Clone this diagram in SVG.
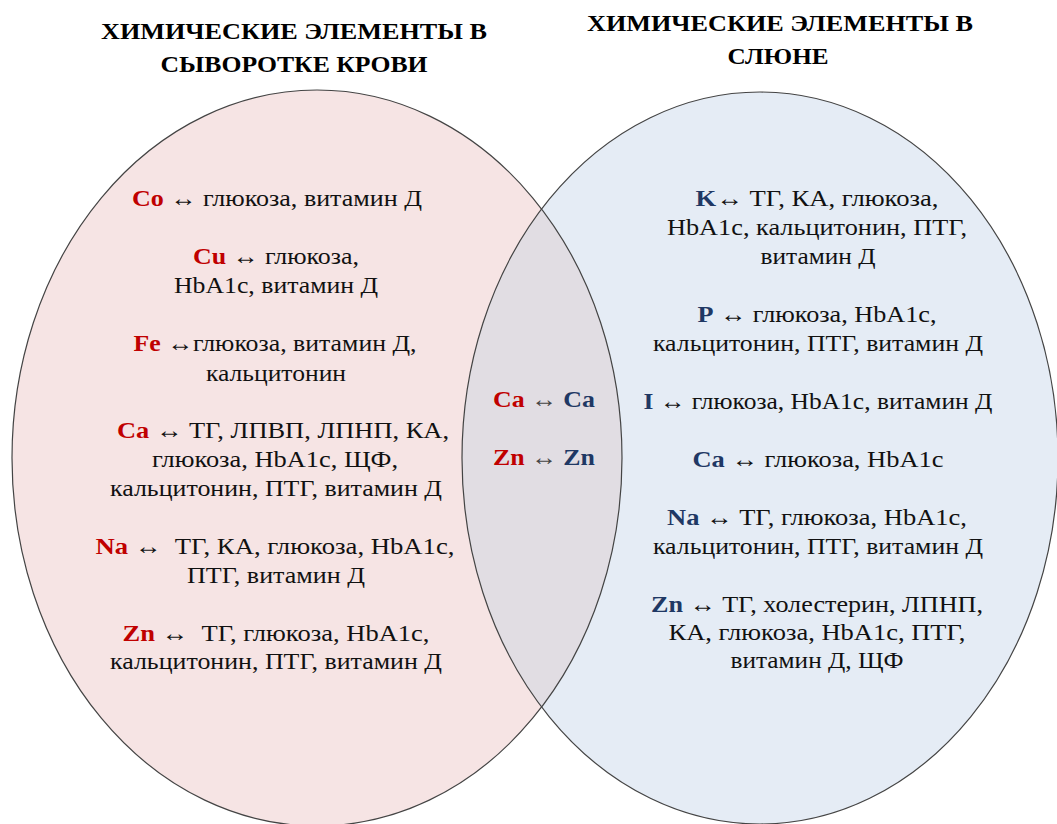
<svg xmlns="http://www.w3.org/2000/svg" width="1057" height="824" viewBox="0 0 1057 824">
<style>
.title{font-family:"Liberation Serif","Tinos","DejaVu Serif","Times New Roman",serif;font-weight:bold;font-size:24px;fill:#000;text-anchor:middle}
.t{font-family:"Liberation Serif","Tinos","DejaVu Serif","Times New Roman",serif;font-size:23.5px;fill:#111;text-anchor:middle;white-space:pre}
.r{fill:#C00000;font-weight:bold}
.b{fill:#1F3864;font-weight:bold}
.ar{fill:#444}
.edge{fill:none;stroke:#444;stroke-width:1.2}
</style>
<defs>
<clipPath id="clipL"><ellipse cx="317" cy="458" rx="305" ry="368"/></clipPath>
</defs>
<rect width="1057" height="824" fill="#fff"/>
<g id="titles">
<text class="title" x="294" y="39" textLength="386" lengthAdjust="spacingAndGlyphs">ХИМИЧЕСКИЕ ЭЛЕМЕНТЫ В</text>
<text class="title" x="294" y="72" textLength="267" lengthAdjust="spacingAndGlyphs">СЫВОРОТКЕ КРОВИ</text>
<text class="title" x="780" y="31" textLength="386" lengthAdjust="spacingAndGlyphs">ХИМИЧЕСКИЕ ЭЛЕМЕНТЫ В</text>
<text class="title" x="778" y="64" textLength="101" lengthAdjust="spacingAndGlyphs">СЛЮНЕ</text>
</g>
<g id="serum">
<ellipse cx="317" cy="458" rx="305" ry="368" fill="#F6E4E4"/>
</g>
<g id="saliva">
<ellipse cx="760" cy="458" rx="298" ry="366" fill="#E5ECF5"/>
</g>
<g id="overlap">
<ellipse cx="760" cy="458" rx="298" ry="366" fill="#E1DDE3" clip-path="url(#clipL)"/>
</g>
<g id="outlines">
<ellipse class="edge" cx="317" cy="458" rx="305" ry="368"/>
<ellipse class="edge" cx="760" cy="458" rx="298" ry="366"/>
</g>
<g id="serum-text">
<text class="t" x="277" y="206" textLength="290" lengthAdjust="spacingAndGlyphs"><tspan class="r">Co</tspan> ↔ глюкоза, витамин Д</text>
<text class="t" x="276" y="264" textLength="166" lengthAdjust="spacingAndGlyphs"><tspan class="r">Cu</tspan> ↔ глюкоза,</text>
<text class="t" x="276" y="293" textLength="204" lengthAdjust="spacingAndGlyphs">HbA1c, витамин Д</text>
<text class="t" x="275" y="351" textLength="283" lengthAdjust="spacingAndGlyphs"><tspan class="r">Fe</tspan> ↔глюкоза, витамин Д,</text>
<text class="t" x="276" y="381" textLength="140" lengthAdjust="spacingAndGlyphs">кальцитонин</text>
<text class="t" x="283" y="438" textLength="332" lengthAdjust="spacingAndGlyphs"><tspan class="r">Ca</tspan> ↔ ТГ, ЛПВП, ЛПНП, КА,</text>
<text class="t" x="275" y="467" textLength="246" lengthAdjust="spacingAndGlyphs">глюкоза, HbA1c, ЩФ,</text>
<text class="t" x="276" y="496" textLength="332" lengthAdjust="spacingAndGlyphs">кальцитонин, ПТГ, витамин Д</text>
<text class="t" x="275" y="554" textLength="359" lengthAdjust="spacingAndGlyphs"><tspan class="r">Na</tspan> ↔  ТГ, КА, глюкоза, HbA1c,</text>
<text class="t" x="276" y="583" textLength="178" lengthAdjust="spacingAndGlyphs">ПТГ, витамин Д</text>
<text class="t" x="276" y="641" textLength="307" lengthAdjust="spacingAndGlyphs"><tspan class="r">Zn</tspan> ↔  ТГ, глюкоза, HbA1c,</text>
<text class="t" x="276" y="669" textLength="332" lengthAdjust="spacingAndGlyphs">кальцитонин, ПТГ, витамин Д</text>
</g>
<g id="common-text">
<text class="t" x="544" y="407" textLength="102" lengthAdjust="spacingAndGlyphs"><tspan class="r">Ca</tspan> <tspan class="ar">↔</tspan> <tspan class="b">Ca</tspan></text>
<text class="t" x="544" y="465" textLength="102" lengthAdjust="spacingAndGlyphs"><tspan class="r">Zn</tspan> <tspan class="ar">↔</tspan> <tspan class="b">Zn</tspan></text>
</g>
<g id="saliva-text">
<text class="t" x="817" y="206" textLength="243" lengthAdjust="spacingAndGlyphs"><tspan class="b">K</tspan>↔ ТГ, КА, глюкоза,</text>
<text class="t" x="817" y="235" textLength="300" lengthAdjust="spacingAndGlyphs">HbA1c, кальцитонин, ПТГ,</text>
<text class="t" x="818" y="264" textLength="115" lengthAdjust="spacingAndGlyphs">витамин Д</text>
<text class="t" x="817" y="322" textLength="239" lengthAdjust="spacingAndGlyphs"><tspan class="b">P</tspan> ↔ глюкоза, HbA1c,</text>
<text class="t" x="818" y="351" textLength="330" lengthAdjust="spacingAndGlyphs">кальцитонин, ПТГ, витамин Д</text>
<text class="t" x="818" y="409" textLength="349" lengthAdjust="spacingAndGlyphs"><tspan class="b">I</tspan> ↔ глюкоза, HbA1c, витамин Д</text>
<text class="t" x="818" y="467" textLength="251" lengthAdjust="spacingAndGlyphs"><tspan class="b">Ca</tspan> ↔ глюкоза, HbA1c</text>
<text class="t" x="817" y="525" textLength="300" lengthAdjust="spacingAndGlyphs"><tspan class="b">Na</tspan> ↔ ТГ, глюкоза, HbA1c,</text>
<text class="t" x="818" y="554" textLength="330" lengthAdjust="spacingAndGlyphs">кальцитонин, ПТГ, витамин Д</text>
<text class="t" x="817" y="612" textLength="332" lengthAdjust="spacingAndGlyphs"><tspan class="b">Zn</tspan> ↔ ТГ, холестерин, ЛПНП,</text>
<text class="t" x="817" y="640" textLength="297" lengthAdjust="spacingAndGlyphs">КА, глюкоза, HbA1c, ПТГ,</text>
<text class="t" x="817" y="668" textLength="173" lengthAdjust="spacingAndGlyphs">витамин Д, ЩФ</text>
</g>
</svg>
